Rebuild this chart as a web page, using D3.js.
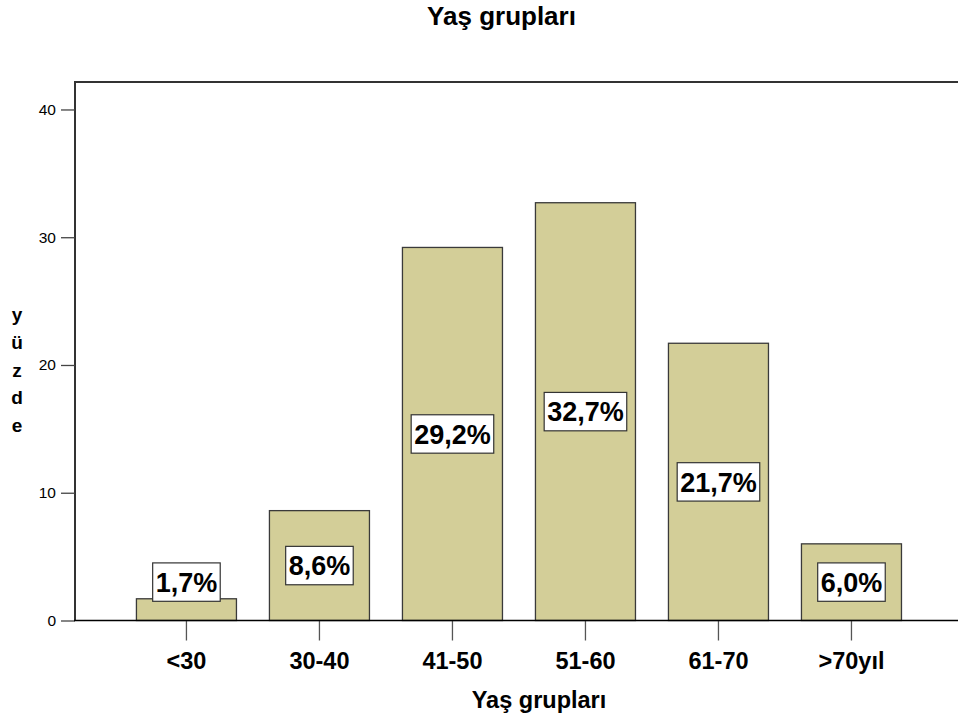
<!DOCTYPE html>
<html lang="tr">
<head>
<meta charset="utf-8">
<title>Yaş grupları</title>
<script src="https://cdn.jsdelivr.net/npm/d3@7"></script>
<style>
  html, body { margin: 0; padding: 0; background: #fff; }
  svg { display: block; font-family: "Liberation Sans", Arial, Helvetica, sans-serif; }
</style>
</head>
<body>
<svg id="chart" width="958" height="724"></svg>
<script>
// Age groups and their share of patients (%)
const categories = ["<30", "30-40", "41-50", "51-60", "61-70", ">70yıl"];
const percents = [1.7, 8.6, 29.2, 32.7, 21.7, 6.0];
const yTicks = [0, 10, 20, 30, 40];
const yTitleLetters = ["y", "ü", "z", "d", "e"];
const chartTitle = "Yaş grupları";
const xTitle = "Yaş grupları";

const svg = d3.select("#chart");

// Plot frame (the right part runs past the visible width)
const plot = { left: 75, right: 1003, top: 82, bottom: 620.5 };

const x = d3.scaleBand()
  .domain(categories)
  .range([plot.left, plot.right])
  .paddingInner(0.248)
  .paddingOuter(0.6126)
  .align(0.377);

const y = d3.scaleLinear()
  .domain([0, 42.15])
  .range([plot.bottom, plot.top]);

// Title
svg.append("text")
  .attr("x", 501.5)
  .attr("y", 25)
  .attr("text-anchor", "middle")
  .attr("font-size", 26)
  .attr("font-weight", "bold")
  .attr("fill", "#000")
  .text(chartTitle);

// Bars
svg.append("g")
  .selectAll("rect")
  .data(percents)
  .join("rect")
  .attr("x", (d, i) => x(categories[i]))
  .attr("y", d => y(d))
  .attr("width", x.bandwidth())
  .attr("height", d => y(0) - y(d))
  .attr("fill", "#d3ce98")
  .attr("stroke", "#3a3a3a")
  .attr("stroke-width", 1.3);

// Frame: left and top edges
svg.append("path")
  .attr("d", `M${plot.left},${plot.bottom}V${plot.top}H${plot.right}`)
  .attr("fill", "none")
  .attr("stroke", "#333")
  .attr("stroke-width", 2);

// Y axis
const yAxis = svg.append("g")
  .attr("transform", `translate(${plot.left},0)`)
  .call(d3.axisLeft(y).tickValues(yTicks).tickSize(14).tickPadding(5).tickFormat(d3.format("d")));
yAxis.select(".domain").remove();
yAxis.selectAll(".tick line").attr("stroke", "#444").attr("stroke-width", 1.3);
yAxis.selectAll(".tick text")
  .attr("font-size", 15.5)
  .attr("font-family", "Liberation Sans, Arial, sans-serif")
  .attr("fill", "#000");

// X axis
const xAxis = svg.append("g")
  .attr("transform", `translate(0,${plot.bottom})`)
  .call(d3.axisBottom(x).tickSize(20).tickPadding(12));
xAxis.select(".domain").remove();
xAxis.selectAll(".tick line").attr("stroke", "#555").attr("stroke-width", 1.3);
xAxis.selectAll(".tick text")
  .attr("font-size", 23.5)
  .attr("font-weight", "bold")
  .attr("font-family", "Liberation Sans, Arial, sans-serif")
  .attr("fill", "#000");

// Baseline
svg.append("line")
  .attr("x1", plot.left - 1)
  .attr("x2", plot.right)
  .attr("y1", y(0))
  .attr("y2", y(0))
  .attr("stroke", "#000")
  .attr("stroke-width", 1.6);

// X axis title
svg.append("text")
  .attr("x", (plot.left + plot.right) / 2)
  .attr("y", 708)
  .attr("text-anchor", "middle")
  .attr("font-size", 23.5)
  .attr("font-weight", "bold")
  .attr("fill", "#000")
  .text(xTitle);

// Y axis title, one letter per line
svg.append("g")
  .selectAll("text")
  .data(yTitleLetters)
  .join("text")
  .attr("x", 17)
  .attr("y", (d, i) => 321 + i * 27.8)
  .attr("text-anchor", "middle")
  .attr("font-size", 19)
  .attr("font-weight", "bold")
  .attr("fill", "#000")
  .text(d => d);

// Value labels in white boxes, centred on each bar
const fmt = v => d3.format(".1f")(v).replace(".", ",") + "%";
const labelSize = 27;
const boxH = 38.4;
const labels = svg.append("g")
  .selectAll("g")
  .data(percents)
  .join("g");

labels.each(function (d, i) {
  const g = d3.select(this);
  const cx = x(categories[i]) + x.bandwidth() / 2;
  const cy = Math.min(y(d / 2), y(0) - boxH);
  const box = g.append("rect");
  const t = g.append("text")
    .attr("x", cx)
    .attr("y", cy + labelSize * 0.716 / 2)
    .attr("text-anchor", "middle")
    .attr("font-size", labelSize)
    .attr("font-weight", "bold")
    .attr("fill", "#000")
    .text(fmt(d));
  const w = t.node().getComputedTextLength() + 6;
  box.attr("x", cx - w / 2)
    .attr("y", cy - boxH / 2)
    .attr("width", w)
    .attr("height", boxH)
    .attr("fill", "#fff")
    .attr("stroke", "#333")
    .attr("stroke-width", 1.2);
});
</script>
</body>
</html>
